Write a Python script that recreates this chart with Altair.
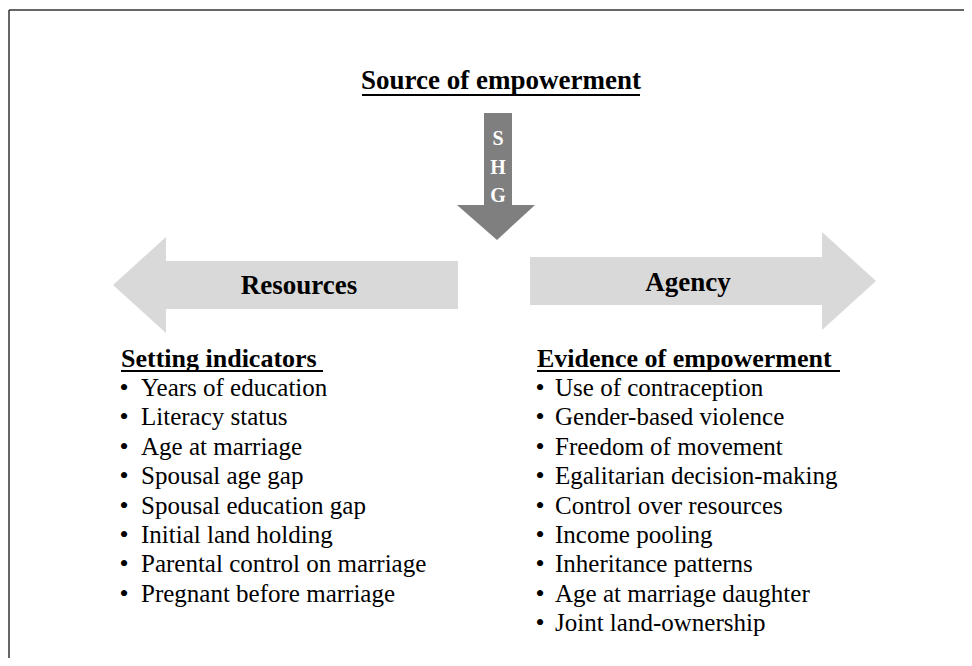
import altair as alt
import pandas as pd

# ---------------- data (text content) ----------------
title_text = "Source of empowerment"
shg_letters = ["S", "H", "G"]
left_label = "Resources"
right_label = "Agency"
left_header = "Setting indicators"
left_items = [
    "Years of education",
    "Literacy status",
    "Age at marriage",
    "Spousal age gap",
    "Spousal education gap",
    "Initial land holding",
    "Parental control on marriage",
    "Pregnant before marriage",
]
right_header = "Evidence of empowerment"
right_items = [
    "Use of contraception",
    "Gender-based violence",
    "Freedom of movement",
    "Egalitarian decision-making",
    "Control over resources",
    "Income pooling",
    "Inheritance patterns",
    "Age at marriage daughter",
    "Joint land-ownership",
]

# ---------------- layout (page pixel space) ----------------
W, H = 956, 650
XS = alt.Scale(domain=[8, 8 + W], range=[0, W], nice=False, zero=False)
YS = alt.Scale(domain=[8, 8 + H], range=[0, H], nice=False, zero=False)
FONT = "Liberation Serif"
LIGHT = "#d9d9d9"
DARK = "#7f7f7f"


def X(f):
    return alt.X(f, type="quantitative", scale=XS, axis=None)


def Y(f):
    return alt.Y(f, type="quantitative", scale=YS, axis=None)


layers = []

# frame (left and top edges visible)
frame = pd.DataFrame({"x": [9, 9], "x2": [9, 8 + W], "y": [10, 10], "y2": [8 + H, 10]})
layers.append(
    alt.Chart(frame).mark_rule(color="#333333", strokeWidth=1.5).encode(
        x=X("x"), x2="x2", y=Y("y"), y2="y2"
    )
)

# down arrow (SHG)
down_shaft = pd.DataFrame({"x": [484], "x2": [512], "y": [113], "y2": [206]})
layers.append(
    alt.Chart(down_shaft).mark_rect(color=DARK).encode(
        x=X("x"), x2="x2", y=Y("y"), y2="y2"
    )
)
down_head = pd.DataFrame({"y": [205, 240], "x": [457, 497], "x2": [535, 497]})
layers.append(
    alt.Chart(down_head).mark_area(color=DARK, orient="horizontal").encode(
        y=Y("y"), x=X("x"), x2="x2"
    )
)

# left arrow (Resources)
left_shaft = pd.DataFrame({"x": [165], "x2": [458], "y": [261], "y2": [309]})
layers.append(
    alt.Chart(left_shaft).mark_rect(color=LIGHT).encode(
        x=X("x"), x2="x2", y=Y("y"), y2="y2"
    )
)
left_head = pd.DataFrame({"x": [113, 166], "y": [285, 237], "y2": [285, 333]})
layers.append(
    alt.Chart(left_head).mark_area(color=LIGHT, orient="vertical").encode(
        x=X("x"), y=Y("y"), y2="y2"
    )
)

# right arrow (Agency)
right_shaft = pd.DataFrame({"x": [530], "x2": [823], "y": [257], "y2": [305]})
layers.append(
    alt.Chart(right_shaft).mark_rect(color=LIGHT).encode(
        x=X("x"), x2="x2", y=Y("y"), y2="y2"
    )
)
right_head = pd.DataFrame({"x": [822, 876], "y": [232, 281], "y2": [330, 281]})
layers.append(
    alt.Chart(right_head).mark_area(color=LIGHT, orient="vertical").encode(
        x=X("x"), y=Y("y"), y2="y2"
    )
)

# title
title_df = pd.DataFrame({"x": [501], "y": [81], "t": [title_text]})
layers.append(
    alt.Chart(title_df).mark_text(
        font=FONT, fontSize=27, fontWeight="bold", color="#000000",
        align="center", baseline="middle"
    ).encode(x=X("x"), y=Y("y"), text="t:N")
)

# SHG letters
shg_df = pd.DataFrame({
    "t": shg_letters,
    "x": [498] * 3,
    "y": [139 + 28.5 * i for i in range(len(shg_letters))],
})
layers.append(
    alt.Chart(shg_df).mark_text(
        font=FONT, fontSize=20, fontWeight="bold", color="#ffffff",
        align="center", baseline="middle"
    ).encode(x=X("x"), y=Y("y"), text="t:N")
)

# arrow labels
lab_df = pd.DataFrame({"t": [left_label, right_label], "x": [299, 688], "y": [286, 283]})
layers.append(
    alt.Chart(lab_df).mark_text(
        font=FONT, fontSize=27, fontWeight="bold", color="#000000",
        align="center", baseline="middle"
    ).encode(x=X("x"), y=Y("y"), text="t:N")
)

# list headers
hdr_df = pd.DataFrame({"t": [left_header, right_header], "x": [121, 537], "y": [359, 359]})
layers.append(
    alt.Chart(hdr_df).mark_text(
        font=FONT, fontSize=26, fontWeight="bold", color="#000000",
        align="left", baseline="middle"
    ).encode(x=X("x"), y=Y("y"), text="t:N")
)

# underlines
ul_df = pd.DataFrame({
    "x": [362, 121, 537], "x2": [640, 323, 840], "y": [95, 371, 371]
})
layers.append(
    alt.Chart(ul_df).mark_rule(color="#000000", strokeWidth=2).encode(
        x=X("x"), x2="x2", y=Y("y")
    )
)

# list items
SP = 29.4
rows = []
for i, t in enumerate(left_items):
    rows.append({"t": t, "x": 141, "bx": 124, "y": 388 + SP * i})
for i, t in enumerate(right_items):
    rows.append({"t": t, "x": 555, "bx": 540, "y": 388 + SP * i})
items_df = pd.DataFrame(rows)
items_df["b"] = "•"
layers.append(
    alt.Chart(items_df).mark_text(
        font=FONT, fontSize=25, color="#000000", align="left", baseline="middle"
    ).encode(x=X("x"), y=Y("y"), text="t:N")
)
layers.append(
    alt.Chart(items_df).mark_text(
        font=FONT, fontSize=26, color="#000000", align="center", baseline="middle"
    ).encode(x=X("bx"), y=Y("y"), text="b:N")
)

chart = alt.layer(*layers).properties(
    width=W, height=H, padding=0, autosize=alt.AutoSizeParams(type="none"),
    background="#ffffff"
).configure_view(stroke=None)

chart.save("out.html", embed_options={"renderer": "svg", "actions": False})
